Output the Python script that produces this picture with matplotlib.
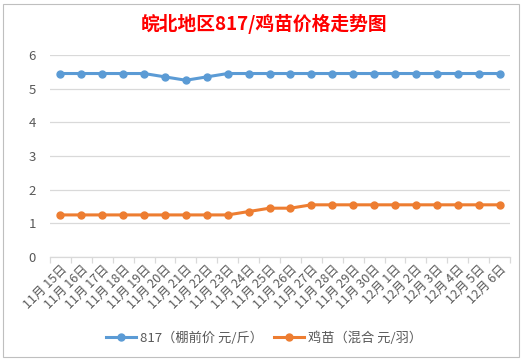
import matplotlib
matplotlib.use("Agg")
import matplotlib.pyplot as plt
import numpy as np
from matplotlib.patches import Rectangle

plt.rcParams['font.family'] = ['Noto Sans CJK SC', 'DejaVu Sans']

dates = ["11月 15日", "11月 16日", "11月 17日", "11月 18日", "11月 19日", "11月 20日",
         "11月 21日", "11月 22日", "11月 23日", "11月 24日", "11月 25日", "11月 26日",
         "11月 27日", "11月 28日", "11月 29日", "11月 30日", "12月 1日", "12月 2日",
         "12月 3日", "12月 4日", "12月 5日", "12月 6日"]
price_817 = [5.45, 5.45, 5.45, 5.45, 5.45, 5.35, 5.25, 5.35, 5.45, 5.45, 5.45,
             5.45, 5.45, 5.45, 5.45, 5.45, 5.45, 5.45, 5.45, 5.45, 5.45, 5.45]
price_chick = [1.25, 1.25, 1.25, 1.25, 1.25, 1.25, 1.25, 1.25, 1.25, 1.35, 1.45,
               1.45, 1.55, 1.55, 1.55, 1.55, 1.55, 1.55, 1.55, 1.55, 1.55, 1.55]
labels = ["817（棚前价 元/斤）", "鸡苗（混合 元/羽）"]

blue = "#5B9BD5"
orange = "#ED7D31"
grid_c = "#D9D9D9"
text_c = "#595959"

fig = plt.figure(figsize=(5.28, 3.61), dpi=100)
# chart frame
fig.patches.append(Rectangle((3 / 528, 4 / 361), 516 / 528, 353 / 361,
                             transform=fig.transFigure, fill=False,
                             edgecolor="#BFBFBF", linewidth=0.8))

ax = fig.add_axes([50 / 528, 1 - 257 / 361, 460 / 528, 202 / 361])
x = np.arange(len(dates))
ax.plot(x, price_817, color=blue, linewidth=2.2, marker="o", markersize=5,
        label=labels[0])
ax.plot(x, price_chick, color=orange, linewidth=2.2, marker="o", markersize=5,
        label=labels[1])

ax.set_xlim(-0.5, len(dates) - 0.5)
ax.set_ylim(0, 6)
ax.set_yticks(range(0, 7))
ax.yaxis.grid(True, color=grid_c, linewidth=0.9)
ax.set_axisbelow(True)
for s in ["top", "right", "left"]:
    ax.spines[s].set_visible(False)
ax.spines["bottom"].set_color(grid_c)
ax.spines["bottom"].set_linewidth(0.9)

ax.set_xticks(x)
ax.set_xticklabels(dates, rotation=45, ha="right", rotation_mode="anchor",
                   fontsize=9, color=text_c)
ax.set_xticks(np.arange(-0.5, len(dates)), minor=True)
ax.tick_params(axis="x", which="major", length=0, pad=4)
ax.tick_params(axis="x", which="minor", length=4, color=grid_c, width=0.9)
ax.tick_params(axis="y", length=0, labelsize=9.5, labelcolor=text_c, pad=10)

fig.text(0.5, 1 - 24 / 361, "皖北地区817/鸡苗价格走势图", ha="center", va="center",
         fontsize=13.5, fontweight="bold", color="#FF0000")

fig.legend(loc="center", bbox_to_anchor=(0.5, 1 - 338 / 361), ncol=2,
           frameon=False, fontsize=9.5, labelcolor=text_c, handlelength=2.3,
           columnspacing=0.8, handletextpad=0.3)

fig.savefig("out.png", dpi=100)
